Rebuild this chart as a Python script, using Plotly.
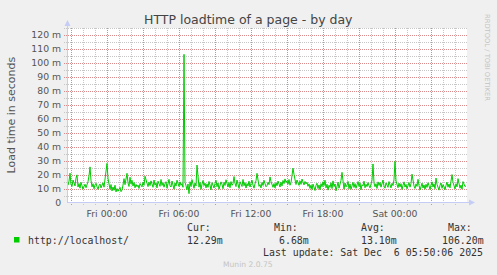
import plotly.graph_objects as go
import pandas as pd

# ---------------- data ----------------
title_text = "HTTP loadtime of a page - by day"
y_title = "Load time in seconds"
series_name = "http://localhost/"
start_time = "2025-12-04 20:40"
sample_minutes = 5
end_time = "2025-12-06 06:00"

# load time in milliseconds ("m"), one sample per 5 minutes
loadtime_m = [
    14.2, 12.8, 15.6, 21.3, 13.1, 11.9, 16.4, 13.5, 12.2, 17.8, 20.1, 11.4, 13.9, 10.6, 14.8, 12.3, 9.8, 11.7, 13.4, 10.9,
    12.6, 15.3, 19.4, 25.8, 16.2, 11.5, 13.8, 10.2, 12.9, 14.1, 11.6, 9.7, 12.4, 13.6, 10.8, 12.1, 14.5, 11.3, 16.7, 21.4,
    28.3, 17.6, 12.4, 9.8, 13.2, 8.6, 11.4, 9.1, 12.7, 7.9, 10.3, 8.4, 9.6, 11.2, 8.1, 9.3, 12.8, 17.4, 13.1, 19.6,
    21.2, 14.3, 11.8, 18.4, 13.6, 16.2, 12.1, 14.7, 10.9, 13.3, 11.6, 12.8, 10.4, 13.9, 12.2, 11.5, 14.8, 12.6, 19.1, 16.3,
    13.2, 11.7, 14.9, 12.4, 15.8, 13.1, 11.2, 16.4, 12.7, 14.3, 10.8, 15.6, 13.4, 11.9, 16.8, 12.5, 14.6, 11.3, 13.7, 15.2,
    10.6, 14.1, 16.9, 12.3, 11.4, 15.7, 13.2, 9.8, 14.4, 12.1, 16.3, 13.5, 11.8, 15.1, 12.6, 13.9, 11.2, 106.2, 14.8, 12.3,
    9.4, 13.6, 6.68, 15.2, 11.8, 16.7, 13.1, 10.5, 14.3, 12.2, 27.1, 15.6, 11.3, 14.8, 9.7, 13.5, 16.1, 12.4, 14.2, 10.8,
    13.7, 11.2, 15.4, 12.8, 9.3, 14.6, 12.1, 10.7, 13.9, 16.2, 11.6, 14.3, 9.8, 12.7, 15.1, 13.4, 10.2, 14.8, 12.5, 16.6,
    13.2, 11.4, 14.7, 10.9, 15.3, 12.6, 13.8, 18.9, 14.2, 11.7, 16.4, 12.9, 10.5, 15.2, 13.1, 11.8, 16.8, 12.3, 14.6, 10.7,
    13.9, 12.2, 15.6, 11.4, 14.1, 16.3, 12.8, 10.6, 13.7, 15.9, 21.2, 14.4, 11.9, 13.2, 10.8, 14.7, 12.5, 16.2, 13.3, 11.6,
    12.4, 14.8, 13.1, 18.6, 15.3, 12.7, 11.2, 13.9, 10.8, 14.4, 12.3, 15.7, 13.6, 11.4, 14.9, 12.2, 16.1, 13.8, 17.2, 14.6,
    15.9, 13.4, 16.8, 12.7, 14.5, 18.3, 24.9, 20.4, 15.7, 13.2, 16.4, 14.1, 12.6, 15.8, 13.3, 17.1, 14.2, 12.9, 15.4, 13.6,
    14.8, 11.9, 13.7, 10.4, 12.8, 9.6, 13.5, 11.2, 8.9, 12.6, 14.1, 10.3, 12.9, 9.4, 13.8, 11.6, 15.2, 12.4, 16.3, 10.8,
    13.4, 9.2, 12.7, 11.1, 14.5, 10.3, 15.8, 11.7, 13.6, 8.7, 12.4, 14.9, 10.6, 13.2, 16.2, 21.9, 13.7, 9.8, 14.3, 11.5,
    12.8, 15.4, 10.2, 13.6, 9.7, 12.4, 14.8, 11.1, 13.9, 10.5, 12.7, 15.3, 11.8, 14.2, 9.4, 13.1, 12.2, 15.6, 10.9, 13.4,
    11.7, 14.6, 12.3, 10.8, 13.5, 16.2, 27.9, 14.3, 11.6, 13.8, 10.4, 15.1, 12.5, 14.7, 11.3, 13.2, 16.4, 12.1, 10.6, 14.4,
    12.9, 11.2, 15.3, 13.6, 10.8, 14.1, 12.4, 16.8, 29.8, 15.7, 12.3, 10.9, 14.2, 11.5, 13.8, 9.6, 12.7, 15.1, 11.4, 13.3,
    10.2, 12.8, 14.6, 11.3, 13.9, 20.6, 15.2, 12.1, 10.4, 13.7, 11.8, 16.9, 12.5, 9.3, 11.6, 14.2, 10.7, 12.9, 9.8, 13.4,
    11.1, 14.5, 12.3, 9.6, 12.8, 15.1, 11.4, 13.7, 10.2, 17.8, 13.3, 11.6, 9.2, 12.7, 14.3, 10.5, 13.1, 11.8, 9.4, 12.6,
    14.9, 11.3, 13.6, 10.8, 15.2, 20.3, 14.7, 12.4, 10.1, 13.8, 11.5, 17.4, 14.2, 10.6, 12.8, 9.9, 15.3, 13.1, 11.7, 12.29,
]

y_tickvals = [0, 10, 20, 30, 40, 50, 60, 70, 80, 90, 100, 110, 120]
y_ticktext = ["0", "10 m", "20 m", "30 m", "40 m", "50 m", "60 m", "70 m", "80 m",
              "90 m", "100 m", "110 m", "120 m"]
x_major_first = "2025-12-04 21:00"
x_major_last = "2025-12-06 03:00"
x_ticktext = ["", "Fri 00:00", "", "Fri 06:00", "", "Fri 12:00", "", "Fri 18:00",
              "", "Sat 00:00", ""]

stat_names = ["Cur:", "Min:", "Avg:", "Max:"]
stat_values = ["12.29m", "6.68m", "13.10m", "106.20m"]
last_update = "Last update: Sat Dec  6 05:50:06 2025"
version_text = "Munin 2.0.75"
side_text = "RRDTOOL / TOBI OETIKER"

# ---------------- layout helpers ----------------
W, H = 497, 275
L, R, T, B = 67, 467, 28, 203
Y_MAX = 125


def px(x):
    return (x - L) / (R - L)


def py(y):
    return (B - y) / (B - T)


times = pd.date_range(start_time, periods=len(loadtime_m), freq=f"{sample_minutes}min")
x_major = list(pd.date_range(x_major_first, x_major_last, freq="3h"))
x_minor = [t for t in pd.date_range("2025-12-04 21:00", "2025-12-06 05:00", freq="1h") if t.hour % 3 != 0]
y_minor = [v + 5 for v in y_tickvals]

# half-pixel offsets so 1px grid lines land on whole pixels (crisp)
HALF_X = pd.Timedelta(minutes=sample_minutes / 2)
HALF_Y = 0.5 * Y_MAX / (B - T)

GREEN = "#00CC00"
MAJ = "#D98A8A"
MIN = "#C6C6C6"
AXC = "#C5CCF5"
DOTS = "1px,1px"
CLEAR = "rgba(0,0,0,0)"

fig = go.Figure()
fig.add_trace(go.Scatter(x=times, y=loadtime_m, mode="lines",
                         line=dict(color=GREEN, width=1), name=series_name,
                         hoverinfo="skip"))

fig.update_layout(
    width=W, height=H, autosize=False,
    margin=dict(l=L, r=W - R, t=T, b=H - B, pad=0),
    paper_bgcolor="#F0F0F0", plot_bgcolor="#FFFFFF",
    showlegend=False,
    font=dict(family="DejaVu Sans", size=9.3, color="#555555"),
)

fig.update_xaxes(
    type="date", range=[start_time, end_time],
    tickmode="array", tickvals=x_major, ticktext=x_ticktext,
    showgrid=False, ticks="outside", ticklen=2, tickcolor=CLEAR,
    showline=False, zeroline=False,
    tickfont=dict(family="DejaVu Sans", size=9.3, color="#555555"),
)

fig.update_yaxes(
    range=[0, Y_MAX], tickmode="array", tickvals=y_tickvals, ticktext=y_ticktext,
    showgrid=False, ticks="outside", ticklen=3, tickcolor=CLEAR,
    showline=False, zeroline=False,
    tickfont=dict(family="DejaVu Sans", size=9.3, color="#555555"),
)

shapes = []
# grid lines + tick marks drawn from the tick lists
for vals, col in ((x_minor, MIN), (x_major, MAJ)):
    for t in vals:
        shapes.append(dict(type="line", xref="x", yref="paper", x0=t + HALF_X, x1=t + HALF_X,
                           y0=py(205), y1=1,
                           layer="below", line=dict(color=col, width=1, dash=DOTS)))
for vals, col in ((y_minor, MIN), (y_tickvals, MAJ)):
    for v in vals:
        shapes.append(dict(type="line", xref="paper", yref="y", x0=px(64), x1=1,
                           y0=v - HALF_Y, y1=v - HALF_Y,
                           layer="below", line=dict(color=col, width=1, dash=DOTS)))

# axis lines with arrows
shapes += [
    dict(type="line", xref="paper", yref="paper", x0=px(67.5), x1=px(67.5), y0=py(203), y1=py(24),
         line=dict(color=AXC, width=1)),
    dict(type="path", xref="paper", yref="paper",
         path=f"M {px(64.5)},{py(26)} L {px(70.5)},{py(26)} L {px(67.5)},{py(20)} Z",
         fillcolor=AXC, line=dict(color=AXC, width=0)),
    dict(type="line", xref="paper", yref="paper", x0=px(67), x1=px(470), y0=py(202.5), y1=py(202.5),
         line=dict(color=AXC, width=1)),
    dict(type="path", xref="paper", yref="paper",
         path=f"M {px(469)},{py(199.5)} L {px(469)},{py(205.5)} L {px(475)},{py(202.5)} Z",
         fillcolor=AXC, line=dict(color=AXC, width=0)),
    dict(type="rect", xref="paper", yref="paper", x0=px(14), x1=px(19.5), y0=py(242.5), y1=py(237),
         fillcolor=GREEN, line=dict(width=0)),
]
fig.update_layout(shapes=shapes)

MONO = "DejaVu Sans Mono"
anns = []


def ann(text, x, y, size, color, family="DejaVu Sans", xanchor="left", angle=0):
    anns.append(dict(text=text, x=px(x), y=py(y), xref="paper", yref="paper",
                     xanchor=xanchor, yanchor="middle", showarrow=False,
                     textangle=angle, borderpad=0,
                     font=dict(family=family, size=size, color=color)))


ann(title_text, 248, 19, 12.5, "#444444", xanchor="center")
ann(y_title, 10.5, 115, 11, "#555555", xanchor="center", angle=-90)
ann(side_text, 487.5, 57.5, 6.75, "#C4C4C4", xanchor="center", angle=90)
ann(series_name, 26.5, 240, 9.9, "#333333", family=MONO)

name_x = [185.5, 272.5, 359.5, 446.5]
val_x = [185.5, 278, 359.5, 441]
for n, v, nx, vx in zip(stat_names, stat_values, name_x, val_x):
    ann(n, nx, 227.5, 9.9, "#333333", family=MONO)
    ann(v, vx, 240, 9.9, "#333333", family=MONO)
ann(last_update, 261.5, 252, 9.9, "#333333", family=MONO)
ann(version_text, 248, 264, 7.6, "#C4C4C4", xanchor="center")

fig.update_layout(annotations=anns)

fig.write_html("out.html", config={"displayModeBar": False})
